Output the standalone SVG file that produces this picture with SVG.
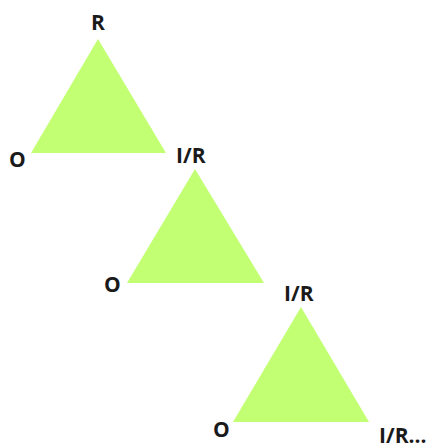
<svg xmlns="http://www.w3.org/2000/svg" width="433" height="444" viewBox="0 0 433 444">
<style>
.tri{fill:#c2ff73;stroke:none}
.lbl{font-family:"Open Sans","Liberation Sans",sans-serif;font-weight:bold;font-size:21px;fill:#1a1a1a}
</style>
<rect width="433" height="444" fill="#ffffff"/>
<g id="triangle1">
<polygon class="tri" points="98,39 31,153 166,153"/>
<text class="lbl" x="98" y="30" text-anchor="middle">R</text>
<text class="lbl" x="9" y="167">O</text>
</g>
<g id="triangle2">
<polygon class="tri" points="195,169 127,283 264,283"/>
<text class="lbl" x="176" y="163">I/R</text>
<text class="lbl" x="104" y="292">O</text>
</g>
<g id="triangle3">
<polygon class="tri" points="301,307 233,422 369,422"/>
<text class="lbl" x="284" y="301">I/R</text>
<text class="lbl" x="213" y="437">O</text>
<text class="lbl" x="379" y="443">I/R...</text>
</g>
<g id="connectors"></g>
</svg>
